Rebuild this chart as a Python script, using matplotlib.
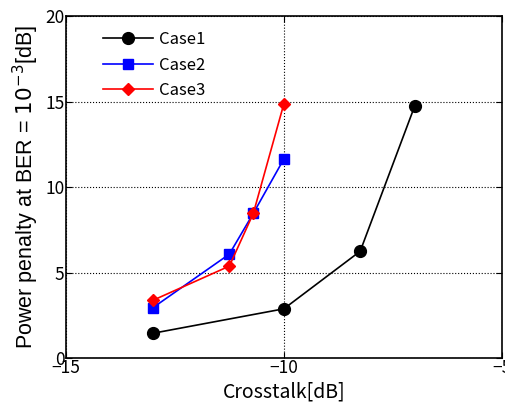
import matplotlib
matplotlib.use("Agg")
import matplotlib.pyplot as plt

# crosstalk vs power penalty for three cases
case1_x = [-13.0, -10.0, -8.25, -7.0]
case1_y = [1.45, 2.88, 6.25, 14.75]
case2_x = [-13.0, -11.25, -10.7, -10.0]
case2_y = [2.95, 6.08, 8.47, 11.65]
case3_x = [-13.0, -11.25, -10.7, -10.0]
case3_y = [3.38, 5.38, 8.47, 14.88]

gothic = ['Noto Sans CJK JP', 'DejaVu Sans']

fig = plt.figure(figsize=(5.06, 4.08), dpi=100)
ax = fig.add_axes([0.130, 0.1225, 0.862, 0.8375])

ax.plot(case1_x, case1_y, color='black', marker='o', markersize=8.5, lw=1.2, label='Case1')
ax.plot(case2_x, case2_y, color='blue', marker='s', markersize=7, lw=1.2, label='Case2')
ax.plot(case3_x, case3_y, color='red', marker='D', markersize=6, lw=1.2, label='Case3')

ax.set_xlim(-15, -5)
ax.set_ylim(0, 20)
ax.set_xticks([-15, -10, -5])
ax.set_yticks([0, 5, 10, 15, 20])
ax.grid(True, color='black', linestyle=':', linewidth=0.8)
ax.tick_params(direction='in', top=True, right=True, length=4, labelsize=12.5, pad=1)
for lab in ax.get_xticklabels() + ax.get_yticklabels():
    lab.set_family(gothic)
for s in ax.spines.values():
    s.set_linewidth(1.2)

ax.set_xlabel('Crosstalk[dB]', fontsize=14, family=gothic, labelpad=3)
ax.set_ylabel('Power penalty at BER = $10^{-3}$[dB]', fontsize=15.5,
              family='Liberation Sans', labelpad=3)

leg = ax.legend(loc='upper left', bbox_to_anchor=(0.05, 1.0), frameon=False,
                prop={'family': gothic, 'size': 12}, handlelength=3.0,
                labelspacing=0.5, handletextpad=0.4)

fig.savefig('out.png', dpi=100)
